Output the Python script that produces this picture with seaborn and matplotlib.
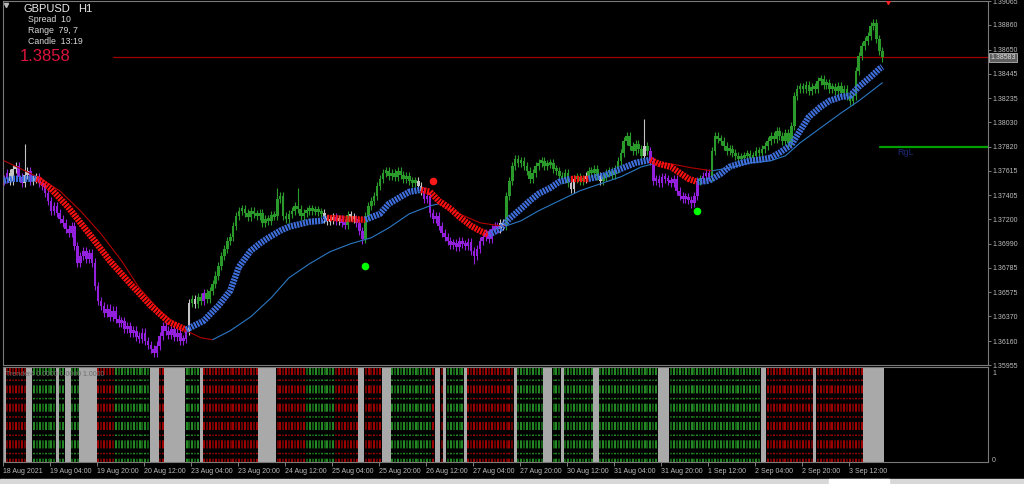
import numpy as np
import matplotlib
matplotlib.use("Agg")
import matplotlib.pyplot as plt
import matplotlib.transforms as mtransforms
from matplotlib.patches import Rectangle
import seaborn as sns

sns.set_theme(style="dark")
plt.rcParams['font.family'] = ['Liberation Sans', 'DejaVu Sans']
plt.rcParams['lines.scale_dashes'] = False
plt.rcParams['axes.facecolor'] = 'black'
plt.rcParams['figure.facecolor'] = 'black'

# ---------------- data (prices in points, 1 point = 0.00001) ----------------
first_open_pts = 137530
close_pts = [
    137546, 137597, 137529, 137631, 137657, 137563, 137512, 137580, 137614, 137529, 137546, 137563, 137512,
    137486, 137426, 137358, 137273, 137315, 137256, 137204, 137170,
    137119, 137085, 137144, 136974, 136829, 136888, 136931, 136863, 136914, 136829,
    136632, 136504, 136461, 136401, 136436, 136367, 136419, 136350, 136316, 136333,
    136265, 136290, 136231, 136248, 136197, 136179, 136231, 136162, 136128, 136094,
    136060, 136120, 136205, 136290, 136248, 136214, 136265, 136197, 136231, 136162, 136179, 136248,
    136487, 136521, 136478, 136538, 136504, 136572, 136521, 136589,
    136649, 136718, 136803, 136888, 136948, 137016, 137051, 137144, 137230, 137273,
    137290, 137256, 137221, 137273, 137247, 137230, 137256, 137170, 137204, 137187,
    137238, 137230, 137375, 137401, 137230, 137204, 137247, 137273, 137315, 137290,
    137230, 137256, 137273, 137290, 137273, 137281, 137264, 137256, 137204, 137187,
    137196, 137221, 137187, 137204, 137170, 137153, 137238, 137221, 137204, 137170,
    137102, 137033, 137230, 137315, 137358, 137401, 137486, 137546, 137597, 137614,
    137571, 137597, 137563, 137614, 137580, 137546, 137571, 137529, 137512, 137529,
    137486, 137443, 137375, 137401, 137256, 137204, 137230, 137144, 137085, 137051,
    137016, 136982, 136999, 136965, 137016, 136991, 136974, 137008, 136931, 136888,
    136948, 137016, 137051, 137085, 137033, 137119, 137144, 137119, 137170, 137144,
    137401, 137529, 137657, 137717, 137682, 137700, 137657, 137614, 137546, 137597,
    137657, 137682, 137700, 137657, 137674, 137682, 137631, 137614, 137571, 137546,
    137597, 137512, 137460, 137546, 137563, 137529, 137546, 137571, 137614, 137597,
    137631, 137571, 137529, 137563, 137597, 137614, 137580, 137631, 137700, 137768,
    137870, 137913, 137828, 137785, 137845, 137802, 137742, 137828, 137785, 137700,
    137529, 137546, 137512, 137563, 137546, 137529, 137512, 137546, 137443, 137401,
    137375, 137392, 137367, 137341, 137401, 137529, 137546, 137571, 137597, 137563,
    137785, 137913, 137887, 137870, 137828, 137785, 137802, 137768, 137742, 137717,
    137734, 137742, 137759, 137725, 137742, 137785, 137768, 137802, 137828, 137870,
    137913, 137887, 137956, 137913, 137870, 137939, 137853, 137998, 138255, 138315,
    138332, 138315, 138349, 138297, 138332, 138315, 138383, 138400, 138349, 138366,
    138315, 138332, 138297, 138340, 138280, 138315, 138255, 138212, 138255, 138468,
    138596, 138682, 138724, 138767, 138853, 138878, 138742, 138639, 138583,
]
spike_hi_bar = [7, 93, 100, 218, 296]
spike_hi_pts = [137845, 137469, 137469, 138058, 138912]
spike_lo_bar = [51, 122, 160, 234]
spike_lo_pts = [136026, 136991, 136820, 137298]

candle_states = ['p', 'w', 'p', 'w', 'p', 'w', 'p',
                 'w', 'g', 'w', 'g', 'p', 'g', 'w', 'p', 'w', 'p', 'g', 'w', 'p', 'g', 'w', 'p', 'w',
                 'g', 'w', 'g', 'w', 'g', 'w', 'g', 'w', 'g', 'p', 'g', 'p', 'g']
candle_counts = [2, 3, 2, 2, 1, 2, 51,
                 1, 1, 1, 2, 1, 40, 4, 1, 1, 2, 1, 2, 3, 18, 2, 26, 2,
                 22, 2, 3, 1, 4, 1, 14, 1, 1, 17, 1, 3, 59]

# smoothed trend line (thick): bar, value, trend of the segment ending at the point
ha_bar = [0, 3, 11, 12, 16, 22, 29, 36, 43, 50, 56, 62,
          68, 73, 77, 80, 84, 87, 90, 94, 97, 104, 108, 110,
          116, 123, 128, 131, 135, 138, 142,
          145, 148, 152, 155, 159, 162, 165,
          169, 172, 176, 179, 182, 186, 189, 193, 196, 199,
          204, 210, 215, 220, 223, 227, 230, 233, 236,
          240, 244, 247, 251, 254, 257, 261, 264, 268, 271, 274, 278, 281, 285, 288, 291, 295, 298, 299]
ha_pts = [137529, 137546, 137546, 137537, 137460, 137298, 137076, 136846, 136649, 136461, 136325, 136256,
          136333, 136461, 136589, 136794, 136931, 136991, 137042, 137102, 137136, 137179, 137187, 137213,
          137204, 137196, 137247, 137332, 137392, 137435, 137452,
          137435, 137358, 137290, 137221, 137144, 137102, 137068,
          137119, 137204, 137290, 137358, 137418, 137469, 137520, 137546, 137546, 137546,
          137571, 137631, 137682, 137708, 137674, 137648, 137597, 137546, 137520,
          137529, 137589, 137648, 137682, 137700, 137708, 137725, 137768, 137836, 137956, 138075, 138161,
          138212, 138246, 138255, 138332, 138417, 138485, 138502]
ha_trend = ("rbbrrrrrrrrr" "bbbbbbbbbbbb" "rr" "bbbbb" "rrrrrrr"
            "bbbbbbbbrr" "bbbbrrrrr" "bbbbbbbbbbbbbbbbbbb")

# slow moving average (thin)
ma_bar = [0, 5, 12, 19, 26, 33, 40, 46, 53, 60, 67, 71,
          77, 84, 91, 97, 104, 111, 118, 125, 131, 138, 145, 148,
          155, 162, 169, 171,
          176, 182, 189, 196, 203, 210, 217, 221,
          227, 234, 241,
          247, 254, 261, 266, 271, 278, 285, 291, 299]
ma_pts = [137700, 137640, 137554, 137443, 137273, 137076, 136846, 136615, 136419, 136273, 136188, 136171,
          136248, 136367, 136530, 136700, 136820, 136923, 136991, 137042, 137127, 137247, 137315, 137332,
          137247, 137170, 137144, 137144,
          137187, 137273, 137358, 137443, 137503, 137563, 137648, 137674,
          137674, 137640, 137614,
          137640, 137682, 137700, 137742, 137853, 137981, 138109, 138212, 138366]
ma_trend = "rrrrrrrrrrrr" "bbbbbbbbbbbb" "rrrr" "bbbbbbbb" "rrr" "bbbbbbbbb"

# signal dots
up_bar = [123, 236]
up_pts = [136803, 137273]
dn_bar = [146]
dn_pts = [137529]

# lower indicator: n = neutral (grey), r = red, g = green
trend_states = ['n', 'r', 'n', 'g', 'n', 'g', 'n', 'g', 'n', 'r', 'g', 'n', 'r', 'n', 'g', 'n',
                'r', 'n', 'r', 'g', 'r', 'n', 'r', 'n', 'g', 'r', 'n', 'r', 'n', 'g', 'n', 'r',
                'n', 'g', 'n', 'g', 'n', 'g', 'n', 'g', 'n', 'g', 'n', 'r', 'n', 'r', 'n']
trend_counts = [1, 7, 2, 8, 1, 2, 2, 3, 6, 6, 12, 3, 2, 7, 5, 1,
                19, 6, 10, 10, 8, 2, 6, 3, 14, 1, 2, 1, 1, 6, 1, 16,
                1, 9, 3, 3, 1, 10, 2, 20, 4, 31, 2, 16, 1, 16, 7]

y_ticks = [1.39065, 1.38860, 1.38650, 1.38445, 1.38235, 1.38030, 1.37820, 1.37615,
           1.37405, 1.37200, 1.36990, 1.36785, 1.36575, 1.36370, 1.36160, 1.35955]
x_tick_bars = [0, 16, 32, 48, 64, 80, 96, 112, 128, 144, 160, 176, 192, 208, 224, 240, 256, 272, 288]
x_tick_labels = ['18 Aug 2021', '19 Aug 04:00', '19 Aug 20:00', '20 Aug 12:00', '23 Aug 04:00',
                 '23 Aug 20:00', '24 Aug 12:00', '25 Aug 04:00', '25 Aug 20:00', '26 Aug 12:00',
                 '27 Aug 04:00', '27 Aug 20:00', '30 Aug 12:00', '31 Aug 04:00', '31 Aug 20:00',
                 '1 Sep 12:00', '2 Sep 04:00', '2 Sep 20:00', '3 Sep 12:00']
last_price = 1.38583
level_price = 1.37820
info_lines = ['Spread  10', 'Range  79, 7', 'Candle  13:19']

# ---------------- styling ----------------
CANDLE_COL = {'g': '#2a9a2a', 'p': '#9320dc', 'w': '#c4c4c4'}
HA_COL = {'b': '#3f6fdc', 'r': '#ff1010'}
MA_COL = {'b': '#2a78c4', 'r': '#b00000'}
WICK = 0.00036
MIN_BODY = 0.00024
W, H = 1024, 484

fig = plt.figure(figsize=(W / 100, H / 100), dpi=100)
ax = fig.add_axes([3 / W, 1 - 365 / H, 985 / W, 364 / H])
axl = fig.add_axes([3 / W, 1 - 462 / H, 985 / W, 95 / H])
for a in (ax, axl):
    a.set_facecolor('black')
    a.grid(False)
    for s in a.spines.values():
        s.set_color('#7a7a7a')
        s.set_linewidth(0.8)
    a.set_xlim(-0.34, 334.98)

N = len(close_pts)
x = np.arange(N)
closes = np.array(close_pts) / 1e5
opens = np.concatenate([[first_open_pts / 1e5], closes[:-1]])
hi = np.maximum(opens, closes) + WICK
lo = np.minimum(opens, closes) - WICK
for b, v in zip(spike_hi_bar, spike_hi_pts):
    hi[b] = max(hi[b], v / 1e5)
for b, v in zip(spike_lo_bar, spike_lo_pts):
    lo[b] = min(lo[b], v / 1e5)
ccol = [CANDLE_COL[c] for c in np.repeat(candle_states, candle_counts)]

ax.vlines(x, lo, hi, colors=ccol, lw=0.8, zorder=2)
mid = (opens + closes) / 2
body = np.maximum(np.abs(closes - opens), MIN_BODY)
ax.bar(x, body, bottom=mid - body / 2, width=0.9, color=ccol, lw=0, zorder=2)


def draw_runs(a, bars, pts, trend, cmap, **kw):
    bars = np.asarray(bars, dtype=float)
    vals = np.asarray(pts) / 1e5
    n = len(bars)
    k = 1
    while k < n:
        c = trend[k]
        j = k
        while j + 1 < n and trend[j + 1] == c:
            j += 1
        sns.lineplot(x=bars[k - 1:j + 1], y=vals[k - 1:j + 1], color=cmap[c], ax=a,
                     estimator=None, sort=False, **kw)
        k = j + 1


draw_runs(ax, ma_bar, ma_pts, ma_trend, MA_COL, linewidth=0.8, zorder=3)
draw_runs(ax, ha_bar, ha_pts, ha_trend, HA_COL, linewidth=4.6,
          linestyle=(0, (1.5, 0.7)), dash_capstyle='butt', zorder=4)

sns.scatterplot(x=up_bar, y=np.array(up_pts) / 1e5, color='#00ff00', s=30, linewidth=0, ax=ax, zorder=5)
sns.scatterplot(x=dn_bar, y=np.array(dn_pts) / 1e5, color='#ff1a1a', s=30, linewidth=0, ax=ax, zorder=5)

ax.set_ylim(1.35955, 1.39065)
ax.axhline(last_price, xmin=(113 - 3) / 985, xmax=1, color='#a00000', lw=0.9, zorder=1)
ax.axhline(level_price, xmin=(880 - 3) / 985, xmax=1, color='#00a000', lw=1.6, zorder=1)
ax.text(304, level_price - 0.00050, 'RgL', color='#1e2a78', fontsize=6.5, va='center', ha='left')
ax.plot([301], [1.39065], marker='v', color='#ff2020', ms=5, clip_on=True, zorder=6)

ax.set_xticks([])
ax.yaxis.tick_right()
ax.set_yticks(y_ticks)
ax.set_yticklabels(['%.5f' % v for v in y_ticks])
ax.tick_params(axis='y', length=2, width=0.6, color='#909090', labelsize=5,
               labelcolor='#bcbcbc', pad=1.2, right=True, left=False)
ax.set_xlabel('')
ax.set_ylabel('')
ax.text(1 + 2 / 985, last_price, '1.38583', transform=mtransforms.blended_transform_factory(ax.transAxes, ax.transData),
        fontsize=5, color='#dcdcdc', va='center', ha='left',
        bbox=dict(boxstyle='square,pad=0.15', fc='#5e5e5e', ec='#b4b4b4', lw=0.6))

# lower panel
ts = np.repeat(trend_states, trend_counts)
gray = ts == 'n'
axl.bar(x[gray], np.ones(gray.sum()), width=1.0, bottom=0, color='#a9a9a9', lw=0, zorder=2)
dash = [(0, (5.8, 3.2, 1.1, 3.1))]
for state, bright, dark in (('r', '#d00000', '#8c0000'), ('g', '#2fb02f', '#177a17')):
    idx = x[ts == state]
    cols = [bright if i % 2 == 0 else dark for i in idx]
    axl.vlines(idx, 1.0, 0.0, colors=cols, lw=1.1, linestyles=dash, zorder=2)
axl.set_ylim(0, 1)
axl.yaxis.tick_right()
axl.set_yticks([0.03, 0.94])
axl.set_yticklabels(['0', '1'])
axl.tick_params(axis='y', length=0, labelsize=5, labelcolor='#bcbcbc', pad=3, right=True, left=False)
axl.set_xticks([b - 0.5 for b in x_tick_bars])
axl.set_xticklabels(x_tick_labels)
for lab in axl.get_xticklabels():
    lab.set_ha('left')
axl.tick_params(axis='x', length=3, width=0.6, color='#909090', labelsize=5,
                labelcolor='#bcbcbc', pad=1.5, bottom=True)
axl.text(0.003, 0.925, 'Trender4 0.0000 0.0000 1.0000', transform=axl.transAxes,
         color='#6e6e6e', fontsize=5, va='center', ha='left', zorder=3)


# top-left info block
def ftxt(px, py, s, **kw):
    fig.text(px / W, 1 - py / H, s, va='center', ha='left', **kw)


ftxt(23, 8.5, 'GBPUSD', color='#e8e8e8', fontsize=8)
ftxt(78, 8.5, 'H1', color='#e8e8e8', fontsize=8)
for k, line in enumerate(info_lines):
    ftxt(28, 20 + k * 10.7, line, color='#d8d8d8', fontsize=6.3)
ftxt(20, 56.5, '%.4f' % last_price, color='#dc143c', fontsize=12)
ax.plot([(5.5 - 3) / 985], [1 - 4 / 364], transform=ax.transAxes, marker='v',
        color='#b8b8b8', ms=3, clip_on=False)

# window strip at bottom
fig.patches.append(Rectangle((0, 0), 1, 5 / H, transform=fig.transFigure, color='#d8d8d8', zorder=0))
fig.patches.append(Rectangle((829 / W, 0), 60 / W, 5 / H, transform=fig.transFigure, color='#ffffff', zorder=1))

fig.savefig('out.png', dpi=100, facecolor='black')
